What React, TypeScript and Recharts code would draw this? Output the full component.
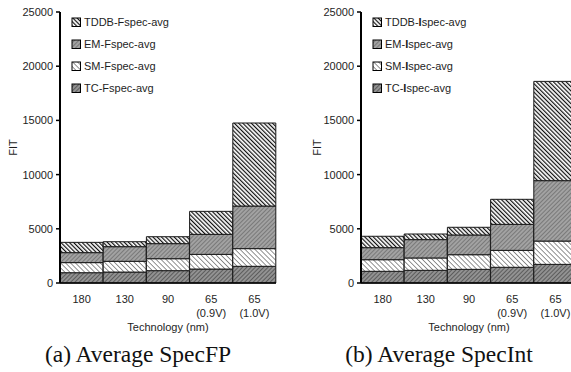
import React from 'react';
import { BarChart, Bar, XAxis, YAxis, Legend } from 'recharts';

// technology nodes (x categories)
const techLabels = ['180', '130', '90', '65', '65'];
const voltLabels = ['', '', '', '(0.9V)', '(1.0V)'];
const yTicks = [0, 5000, 10000, 15000, 20000, 25000];

// (a) SpecFP, stacked FIT per mechanism
const fpTC = [950, 1010, 1140, 1290, 1540];
const fpSM = [930, 990, 1100, 1350, 1630];
const fpEM = [920, 1350, 1390, 1850, 3930];
const fpTDDB = [950, 460, 640, 2120, 7660];

// (b) SpecInt
const intTC = [1080, 1170, 1260, 1450, 1720];
const intSM = [1070, 1140, 1350, 1560, 2150];
const intEM = [1110, 1690, 1820, 2400, 5570];
const intTDDB = [1050, 520, 710, 2310, 9160];

// legend reads top-down, opposite of the stacking
const legendOrder = ['TDDB', 'EM', 'SM', 'TC'];

const SANS = '"Liberation Sans", Arial, Helvetica, sans-serif';
const SERIF = '"Liberation Serif", "Times New Roman", serif';
const INK = '#1e1e1e';

const buildRows = (tc: number[], sm: number[], em: number[], tddb: number[]) =>
  techLabels.map((_, i) => ({ idx: i, TC: tc[i], SM: sm[i], EM: em[i], TDDB: tddb[i] }));

const fpData = buildRows(fpTC, fpSM, fpEM, fpTDDB);
const intData = buildRows(intTC, intSM, intEM, intTDDB);

const TechTick = (props: any) => {
  const { x, y, payload } = props;
  const i = payload.value;
  return (
    <text x={x} y={y} textAnchor="middle" fontSize={11} fill={INK} fontFamily={SANS}>
      <tspan x={x} dy={20}>{techLabels[i]}</tspan>
      {voltLabels[i] ? <tspan x={x} dy={14}>{voltLabels[i]}</tspan> : null}
    </text>
  );
};

const renderName = (name: string) => {
  if (name.includes('Ispec')) {
    const [pre, post] = name.split('Ispec');
    return (
      <>
        {pre}
        <b>I</b>
        {'spec' + post}
      </>
    );
  }
  return name;
};

const LegendBox = (props: any) => {
  const payload = props.payload || [];
  const items = legendOrder
    .map((k) => payload.find((e: any) => e.dataKey === k))
    .filter(Boolean);
  return (
    <div style={{ fontFamily: SANS, fontSize: 11, color: INK }}>
      {items.map((it: any) => (
        <div key={it.dataKey} style={{ display: 'flex', alignItems: 'center', height: 22 }}>
          <svg width={11} height={11} style={{ marginRight: 2 }}>
            <rect x={1} y={1} width={8.5} height={8.5} fill={it.color} stroke="#000" strokeWidth={1} />
          </svg>
          <span>{renderName(it.value)}</span>
        </div>
      ))}
    </div>
  );
};

function Patterns({ p }: { p: string }) {
  return (
    <defs>
      <pattern id={`${p}-tddb`} width={3} height={3} patternUnits="userSpaceOnUse" patternTransform="rotate(-45)">
        <rect width={3} height={3} fill="#fff" />
        <line x1={0} y1={0} x2={0} y2={3} stroke="#111" strokeWidth={2.4} />
      </pattern>
      <pattern id={`${p}-em`} width={3} height={3} patternUnits="userSpaceOnUse" patternTransform="rotate(45)">
        <rect width={3} height={3} fill="#a2a2a2" />
        <line x1={0} y1={0} x2={0} y2={3} stroke="#6e6e6e" strokeWidth={1.6} />
      </pattern>
      <pattern id={`${p}-sm`} width={3.5} height={3.5} patternUnits="userSpaceOnUse" patternTransform="rotate(-45)">
        <rect width={3.5} height={3.5} fill="#fff" />
        <line x1={0} y1={0} x2={0} y2={3.5} stroke="#777" strokeWidth={1.6} />
      </pattern>
      <pattern id={`${p}-tc`} width={3} height={3} patternUnits="userSpaceOnUse" patternTransform="rotate(45)">
        <rect width={3} height={3} fill="#929292" />
        <line x1={0} y1={0} x2={0} y2={3} stroke="#444" strokeWidth={1.4} />
      </pattern>
    </defs>
  );
}

interface StackProps {
  p: string;
  data: any[];
  tag: string;
  left: number;
  fitX: number;
}

function StackChart({ p, data, tag, left, fitX }: StackProps) {
  return (
    <div style={{ position: 'absolute', left, top: 0 }}>
      <BarChart
        width={290}
        height={340}
        data={data}
        margin={{ top: 12, right: 14, bottom: 7, left: 0 }}
        barCategoryGap={0}
        barGap={0}
      >
        <Patterns p={p} />
        <XAxis
          dataKey="idx"
          type="category"
          tick={<TechTick />}
          tickLine={false}
          tickSize={0}
          tickMargin={0}
          height={50}
          interval={0}
          axisLine={{ stroke: '#000', strokeWidth: 1.5 }}
          label={{
            content: (lp: any) => {
              const vb = lp.viewBox;
              return (
                <text x={vb.x + vb.width / 2} y={vb.y + 48} textAnchor="middle" fontSize={11} fill={INK} fontFamily={SANS}>
                  Technology (nm)
                </text>
              );
            },
          }}
        />
        <YAxis
          type="number"
          domain={[0, 25000]}
          ticks={yTicks}
          width={60}
          tickSize={4}
          tickMargin={3}
          interval={0}
          tick={{ fontSize: 11, fill: INK, fontFamily: SANS }}
          tickLine={{ stroke: '#000', strokeWidth: 1.5 }}
          axisLine={{ stroke: '#000', strokeWidth: 2 }}
          label={{
            content: (lp: any) => {
              const vb = lp.viewBox;
              const cy = vb.y + vb.height / 2;
              return (
                <text
                  x={fitX}
                  y={cy}
                  transform={`rotate(-90, ${fitX}, ${cy})`}
                  textAnchor="middle"
                  dominantBaseline="central"
                  fontSize={11}
                  fill={INK}
                  fontFamily={SANS}
                >
                  FIT
                </text>
              );
            },
          }}
        />
        <Legend
          layout="vertical"
          align="center"
          verticalAlign="middle"
          wrapperStyle={{ left: 71, top: 11, width: 'auto', height: 'auto' }}
          content={<LegendBox />}
        />
        <Bar dataKey="TC" name={`TC-${tag}spec-avg`} stackId="s" fill={`url(#${p}-tc)`} stroke="#1a1a1a" strokeWidth={1} isAnimationActive={false} />
        <Bar dataKey="SM" name={`SM-${tag}spec-avg`} stackId="s" fill={`url(#${p}-sm)`} stroke="#1a1a1a" strokeWidth={1} isAnimationActive={false} />
        <Bar dataKey="EM" name={`EM-${tag}spec-avg`} stackId="s" fill={`url(#${p}-em)`} stroke="#1a1a1a" strokeWidth={1} isAnimationActive={false} />
        <Bar dataKey="TDDB" name={`TDDB-${tag}spec-avg`} stackId="s" fill={`url(#${p}-tddb)`} stroke="#1a1a1a" strokeWidth={1} isAnimationActive={false} />
      </BarChart>
    </div>
  );
}

export default function App() {
  return (
    <div style={{ position: 'absolute', left: 0, top: 0, width: 571, height: 372, overflow: 'hidden', background: '#fff' }}>
      <StackChart p="fp" data={fpData} tag="F" left={0} fitX={13} />
      <StackChart p="int" data={intData} tag="I" left={301} fitX={16} />
      <svg width={571} height={42} style={{ position: 'absolute', left: 0, top: 330 }}>
        <text x={138} y={32} textAnchor="middle" fontSize={23.5} fill="#111" fontFamily={SERIF}>
          (a) Average SpecFP
        </text>
        <text x={439} y={32} textAnchor="middle" fontSize={23.5} fill="#111" fontFamily={SERIF}>
          (b) Average SpecInt
        </text>
      </svg>
    </div>
  );
}
